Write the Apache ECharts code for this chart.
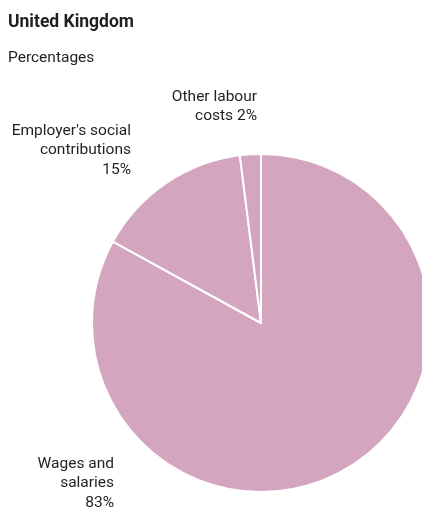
<!DOCTYPE html>
<html>
<head>
<meta charset="utf-8">
<script src="https://cdn.jsdelivr.net/npm/echarts@6/dist/echarts.min.js"></script>
<style>html,body{margin:0;padding:0;background:#fff}#c{width:422px;height:513px}</style>
</head>
<body>
<div id="c"></div>
<script>
var categories = ["Wages and\nsalaries", "Employer's social\ncontributions", "Other labour\ncosts"];
var values = [83, 15, 2];
var labelSep = ["\n", "\n", " "];
var labelPos = [[114, 454], [131, 121], [257, 87]];

var chart = echarts.init(document.getElementById('c'));
chart.setOption({
  animation: false,
  title: [
    {text: 'United Kingdom', left: 8, top: 14, padding: 0, textStyle: {fontFamily: 'Roboto', fontSize: 17.5, fontWeight: 'bold', color: '#231f20'}},
    {text: 'Percentages', left: 8, top: 50, padding: 0, textStyle: {fontFamily: 'Roboto', fontSize: 15.5, fontWeight: 'normal', color: '#231f20'}}
  ],
  series: [{
    type: 'pie',
    center: [261, 323],
    radius: 169,
    startAngle: 90,
    clockwise: true,
    itemStyle: {color: '#d3a5bf', borderColor: '#fff', borderWidth: 2},
    label: {
      show: true,
      position: 'outside',
      fontFamily: 'Roboto',
      fontSize: 15.5,
      lineHeight: 19.5,
      color: '#231f20',
      align: 'right',
      overflow: 'none',
      formatter: function (p) { return p.name + labelSep[p.dataIndex] + p.value + '%'; }
    },
    labelLine: {show: false},
    labelLayout: function (p) {
      var pos = labelPos[p.dataIndex];
      return {x: pos[0], y: pos[1], align: 'right', verticalAlign: 'top'};
    },
    emphasis: {disabled: true},
    data: categories.map(function (c, i) { return {name: c, value: values[i]}; })
  }]
});
</script>
</body>
</html>
